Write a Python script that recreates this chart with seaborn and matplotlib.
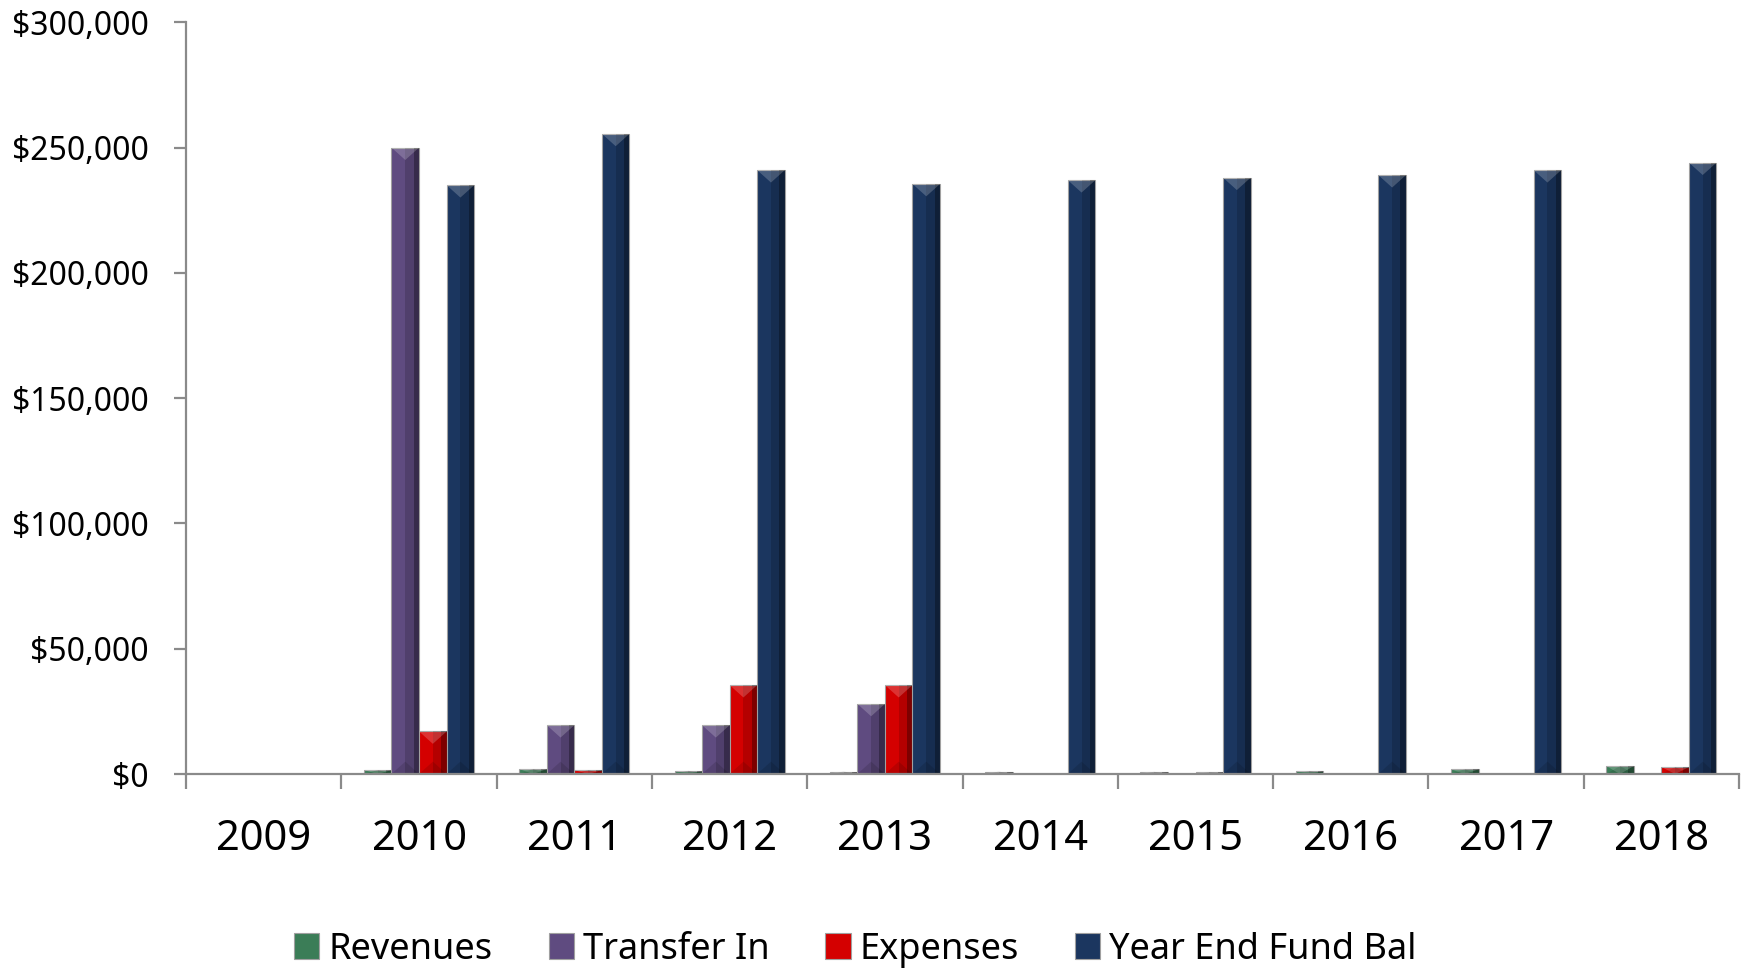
import matplotlib
matplotlib.use("Agg")
import matplotlib.pyplot as plt
import matplotlib.ticker as mticker
from matplotlib.patches import Polygon, Rectangle
import seaborn as sns
import pandas as pd
import numpy as np

years = ["2009", "2010", "2011", "2012", "2013", "2014", "2015", "2016", "2017", "2018"]
revenues = [0, 1600, 2000, 1300, 1000, 1000, 900, 1200, 1900, 3200]
transfer_in = [0, 250000, 19500, 19500, 28000, 0, 0, 0, 0, 0]
expenses = [0, 17000, 1600, 35500, 35500, 0, 700, 0, 0, 2800]
year_end_bal = [0, 235000, 255500, 241000, 235500, 237000, 238000, 239000, 241000, 244000]

series = ["Revenues", "Transfer In", "Expenses", "Year End Fund Bal"]
colors = ["#3b7d57", "#5f4b80", "#d40000", "#1b365f"]

df = pd.DataFrame({"year": years, "Revenues": revenues, "Transfer In": transfer_in,
                   "Expenses": expenses, "Year End Fund Bal": year_end_bal})
long = df.melt(id_vars="year", var_name="series", value_name="value")

sns.set_style("white")
plt.rcParams['font.family'] = ['Noto Sans', 'DejaVu Sans']
plt.rcParams['text.color'] = 'black'
plt.rcParams['xtick.color'] = 'black'
plt.rcParams['ytick.color'] = 'black'

fig = plt.figure(figsize=(17.46, 9.69), dpi=100)
ax = fig.add_axes([0.1066, 0.2012, 0.996 - 0.1066, 0.977 - 0.2012])

sns.barplot(data=long, x="year", y="value", hue="series", hue_order=series,
            palette=colors, width=0.71, gap=0, edgecolor="#a0a0a0", linewidth=0.8,
            saturation=1, ax=ax, legend=True)

ax.set_xlim(-0.5, 9.5)
ax.set_ylim(0, 300000)

# bevel look: darker right side, lighter top triangle
fig.canvas.draw()
px_per_unit = ax.transData.transform((0, 1000))[1] - ax.transData.transform((0, 0))[1]
for p in list(ax.patches):
    h = p.get_height()
    if h <= 0:
        continue
    x0, w = p.get_x(), p.get_width()
    wpx = ax.transData.transform((x0 + w, 0))[0] - ax.transData.transform((x0, 0))[0]
    tri = min(h, wpx * 0.45 / px_per_unit * 1000)
    ax.add_patch(Rectangle((x0 + w * 0.5, 0), w * 0.5, h, color="black", alpha=0.15, lw=0, zorder=p.get_zorder() + 0.1))
    ax.add_patch(Rectangle((x0 + w * 0.8, 0), w * 0.2, h, color="black", alpha=0.3, lw=0, zorder=p.get_zorder() + 0.1))
    ax.add_patch(Polygon([(x0, h), (x0 + w, h), (x0 + w / 2, h - tri)], closed=True,
                         color="white", alpha=0.2, lw=0, zorder=p.get_zorder() + 0.2))
    ax.add_patch(Polygon([(x0, 0), (x0 + w, 0), (x0 + w / 2, min(tri, h))], closed=True,
                         color="black", alpha=0.12, lw=0, zorder=p.get_zorder() + 0.2))

ax.yaxis.set_major_locator(mticker.MultipleLocator(50000))
ax.yaxis.set_major_formatter(mticker.FuncFormatter(lambda v, p: "${:,.0f}".format(v)))
ax.set_xlabel("")
ax.set_ylabel("")

for s in ["top", "right"]:
    ax.spines[s].set_visible(False)
for s in ["left", "bottom"]:
    ax.spines[s].set_color("#8a8a8a")
    ax.spines[s].set_linewidth(1.6)
    ax.spines[s].set_zorder(5)

ax.tick_params(axis="y", which="major", length=9, width=1.6, color="#8a8a8a",
               labelsize=23, pad=18, left=True, direction="out")
ax.tick_params(axis="x", which="major", length=0, labelsize=30, pad=32)
ax.set_xticks(np.arange(-0.5, 10, 1), minor=True)
ax.tick_params(axis="x", which="minor", length=11, width=1.6, color="#8a8a8a",
               bottom=True, direction="out")

handles, labels = ax.get_legend_handles_labels()
ax.get_legend().remove()
fig.legend(handles, labels, loc="center", bbox_to_anchor=(0.49, 0.02), ncol=4,
           frameon=False, fontsize=26, handlelength=0.7, handleheight=0.7,
           handletextpad=0.25, columnspacing=1.55)

fig.savefig("out.png", dpi=100)
